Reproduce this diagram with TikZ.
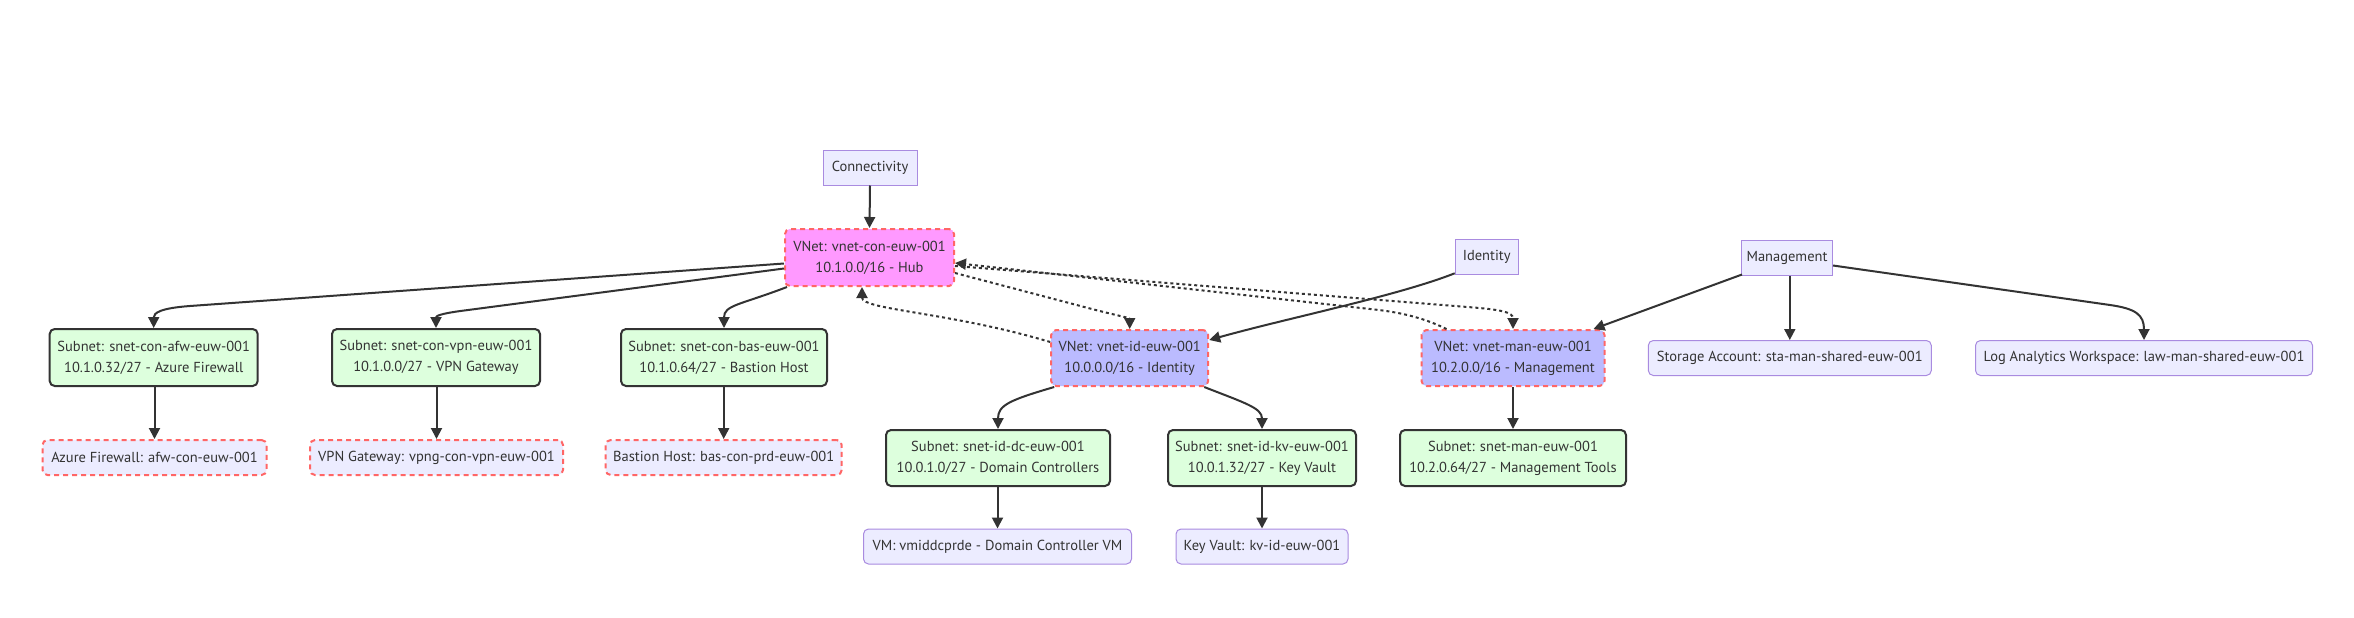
\documentclass[tikz,border=0pt]{standalone}
\usepackage{fontspec}
\setmainfont{PT Sans}
\usetikzlibrary{arrows.meta,calc}
\definecolor{txt}{HTML}{333333}
\definecolor{defFill}{HTML}{ECECFF}
\definecolor{defStroke}{HTML}{A98BE0}
\definecolor{subFill}{HTML}{DDFFDD}
\definecolor{redDash}{HTML}{FF6666}
\definecolor{hubFill}{HTML}{FF99FF}
\definecolor{vnetFill}{HTML}{BBBBFF}
\tikzset{
  base/.style={font=\fontsize{14.5}{21}\selectfont, text=txt, align=center, inner sep=0pt},
  plainbox/.style={base, fill=defFill, draw=defStroke, line width=1pt},
  roundbox/.style={plainbox, rounded corners=5pt},
  subnetbox/.style={base, fill=subFill, draw=txt, line width=2pt, rounded corners=5pt},
  hubbox/.style={base, fill=hubFill, draw=redDash, line width=2pt, rounded corners=5pt, dash pattern=on 5pt off 4pt},
  vnetbox/.style={hubbox, fill=vnetFill},
  resbox/.style={hubbox, fill=defFill},
  edge/.style={draw=txt, line width=2pt, -{Triangle[length=11pt,width=11pt]}},
  dotedge/.style={edge, dash pattern=on 3pt off 3pt},
}
\begin{document}
\begin{tikzpicture}[x=1pt,y=-1pt]
\useasboundingbox (0,0) rectangle (2354,618);
\fill[white] (0,0) rectangle (2354,618);

% nodes
\node[plainbox, minimum width=94pt, minimum height=35pt] (conn) at (870,167.5) {Connectivity};
\node[hubbox, minimum width=169pt, minimum height=57pt] (hub) at (869.5,257.5) {VNet: vnet-con-euw-001\\10.1.0.0/16 - Hub};

\node[subnetbox, minimum width=208pt, minimum height=57pt] (safw) at (153.7,357.5) {Subnet: snet-con-afw-euw-001\\10.1.0.32/27 - Azure Firewall};
\node[subnetbox, minimum width=208pt, minimum height=57pt] (svpn) at (436,357.5) {Subnet: snet-con-vpn-euw-001\\10.1.0.0/27 - VPN Gateway};
\node[subnetbox, minimum width=206pt, minimum height=57pt] (sbas) at (724,357.5) {Subnet: snet-con-bas-euw-001\\10.1.0.64/27 - Bastion Host};

\node[resbox, minimum width=224pt, minimum height=35pt] (afw) at (154.5,457.5) {Azure Firewall: afw-con-euw-001};
\node[resbox, minimum width=253pt, minimum height=35pt] (vpng) at (436.5,457.5) {VPN Gateway: vpng-con-vpn-euw-001};
\node[resbox, minimum width=236pt, minimum height=35pt] (bas) at (723.7,457.5) {Bastion Host: bas-con-prd-euw-001};

\node[plainbox, minimum width=63pt, minimum height=35pt] (idn) at (1486.7,257.3) {Identity};
\node[plainbox, minimum width=91pt, minimum height=35pt] (mgmt) at (1787,257.5) {Management};

\node[vnetbox, minimum width=157pt, minimum height=56pt] (vid) at (1129.7,358) {VNet: vnet-id-euw-001\\10.0.0.0/16 - Identity};
\node[vnetbox, minimum width=183pt, minimum height=56pt] (vman) at (1513,358) {VNet: vnet-man-euw-001\\10.2.0.0/16 - Management};

\node[roundbox, minimum width=283pt, minimum height=35pt] (sta) at (1789.8,358) {Storage Account: sta-man-shared-euw-001};
\node[roundbox, minimum width=337pt, minimum height=35pt] (law) at (2144,358) {Log Analytics Workspace: law-man-shared-euw-001};

\node[subnetbox, minimum width=224pt, minimum height=56pt] (sdc) at (998,458) {Subnet: snet-id-dc-euw-001\\10.0.1.0/27 - Domain Controllers};
\node[subnetbox, minimum width=188pt, minimum height=56pt] (skv) at (1262,458) {Subnet: snet-id-kv-euw-001\\10.0.1.32/27 - Key Vault};
\node[subnetbox, minimum width=226pt, minimum height=56pt] (sman) at (1513,458) {Subnet: snet-man-euw-001\\10.2.0.64/27 - Management Tools};

\node[roundbox, minimum width=268pt, minimum height=35pt] (vm) at (997.5,546.5) {VM: vmiddcprde - Domain Controller VM};
\node[roundbox, minimum width=172pt, minimum height=35pt] (kv) at (1262,546.5) {Key Vault: kv-id-euw-001};

% solid edges
\draw[edge] (conn.south) -- (hub.north);
\draw[edge] ($(hub.west)+(0,6)$) -- (190,306) .. controls (160,308.2) and (153.7,313) .. (safw.north);
\draw[edge] ($(hub.west)+(0,11)$) -- (462,310.8) .. controls (440,313.7) and (436,316) .. (svpn.north);
\draw[edge] ($(hub.south west)+(3,0)$) .. controls (740,305) and (724,305) .. (sbas.north);
\draw[edge] (safw.south -| afw.north) -- (afw.north);
\draw[edge] (svpn.south -| vpng.north) -- (vpng.north);
\draw[edge] (sbas.south -| bas.north) -- (bas.north);

\draw[edge] ($(idn.south west)+(0,-2)$) .. controls (1397,296) and (1288,318) .. ($(vid.east)+(0,-18)$);
\draw[edge] ($(mgmt.south west)+(1,-1)$) -- ($(vman.north east)+(-12,0)$);
\draw[edge] (mgmt.south -| sta.north) -- (sta.north);
\draw[edge] ($(mgmt.east)+(0,8)$) -- (2110,305) .. controls (2136,308.7) and (2144,315) .. (law.north);
\draw[edge] (vman.south) -- (sman.north);
\draw[edge] ($(vid.south west)+(4,0)$) .. controls (1010,400) and (998,405) .. (sdc.north);
\draw[edge] ($(vid.south east)+(-5,0)$) .. controls (1245,403) and (1262,408) .. (skv.north);
\draw[edge] (sdc.south -| vm.north) -- (vm.north);
\draw[edge] (skv.south) -- (kv.north);

% dotted peering edges
\draw[dotedge] ($(hub.east)+(0,15.5)$) -- (1090,308.5) .. controls (1115,315) and (1129.7,318) .. (vid.north);
\draw[dotedge] ($(vid.west)+(0,-16)$) .. controls (950,312) and (862,310) .. ($(hub.south)+(-7.5,0)$);
\draw[dotedge] ($(hub.east)+(0,8.5)$) -- (1470,307.2) .. controls (1500,309.6) and (1513,312) .. (vman.north);
\draw[dotedge] ($(vman.north west)+(26,0)$) .. controls (1420,316) and (1395,311.6) .. (1370,309) -- ($(hub.east)+(0,5.5)$);
\end{tikzpicture}
\end{document}
